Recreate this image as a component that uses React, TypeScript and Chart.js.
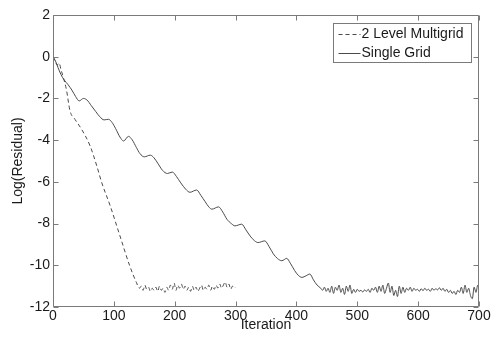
import React, { useEffect, useRef } from "react";
import { Chart, registerables } from "chart.js";

Chart.register(...registerables);

const seriesLabels = ["2 Level Multigrid", "Single Grid"];

const multigridIter = [
  0, 4, 7, 10, 13, 17, 22, 28, 36, 47, 61, 72, 80, 94, 110, 126, 137, 142,
  145, 148, 151, 154, 157, 160, 163, 166, 169, 172, 175, 178, 181, 184, 187,
  190, 193, 196, 199, 202, 205, 208, 211, 214, 217, 220, 223, 226, 229, 232,
  235, 238, 241, 244, 247, 250, 253, 256, 259, 262, 265, 268, 271, 274, 277,
  280, 283, 286, 289, 292, 295, 298, 300,
];
const multigridVal = [
  0.0, -0.25, -0.4, -0.3, -0.6, -1.0, -1.57, -2.6, -3.0, -3.48, -4.28, -5.24,
  -6.03, -7.15, -8.59, -10.02, -10.82, -11.1,
  -11.0, -11.2, -10.95, -11.15, -11.05, -11.25, -11.1, -11.2, -11.05, -11.25,
  -11.0, -11.2, -11.1, -11.3, -11.05, -11.2, -10.95, -11.15, -10.85, -11.2,
  -10.95, -11.1, -10.9, -11.15, -11.0, -11.2, -11.05, -11.25, -11.0, -11.2,
  -11.05, -11.25, -11.1, -10.95, -11.2, -11.05, -11.15, -10.95, -11.2, -11.0,
  -11.15, -10.95, -11.1, -10.9, -11.1, -10.95, -10.8, -11.05, -10.9, -11.15,
  -11.0, -11.1, -11.05,
];

const singleIter = [
  0, 4, 8, 13, 18, 25, 31, 37, 43, 50, 56, 63, 70, 77, 84, 91, 97, 103, 110,
  116, 124, 130, 137, 143, 150, 160, 166, 172, 180, 188, 196, 203, 210, 218,
  225, 236, 243, 250, 256, 261, 272, 279, 286, 293, 299, 310, 317, 324, 331,
  337, 348, 355, 362, 369, 376, 384, 390, 397, 403, 409, 416, 422, 428, 434,
  440, 443, 446, 449, 452, 455, 458, 461, 464, 467, 470, 473, 476, 479, 482,
  485, 488, 491, 494, 497, 500, 503, 506, 509, 512, 515, 518, 521, 524, 527,
  530, 533, 536, 539, 542, 545, 548, 551, 554, 557, 560, 563, 566, 569, 572,
  575, 578, 581, 584, 587, 590, 593, 596, 599, 602, 605, 608, 611, 614, 617,
  620, 623, 626, 629, 632, 635, 638, 641, 644, 647, 650, 653, 656, 659, 662,
  665, 668, 671, 674, 677, 680, 683, 686, 689, 692, 695, 698, 700,
];
const singleVal = [
  0.0, -0.2, -0.5, -0.85, -1.1, -1.35, -1.6, -1.9, -2.12, -2.0, -2.08, -2.35,
  -2.62, -2.88, -3.03, -3.0, -3.15, -3.45, -3.85, -4.04, -3.82, -3.98, -4.35,
  -4.65, -4.8, -4.72, -4.85, -5.1, -5.45, -5.6, -5.53, -5.75, -6.05, -6.35,
  -6.5, -6.39, -6.65, -6.95, -7.2, -7.31, -7.2, -7.45, -7.8, -8.0, -8.11,
  -8.03, -8.3, -8.6, -8.82, -8.91, -8.83, -9.1, -9.45, -9.68, -9.78, -9.67,
  -9.9, -10.25, -10.48, -10.58, -10.5, -10.42, -10.7, -10.95, -11.1,
  -11.2, -11.05, -11.25, -11.1, -11.3, -11.0, -11.35, -11.05, -11.2, -10.95,
  -11.3, -11.1, -11.4, -11.0, -11.25, -10.95, -11.35, -11.15, -11.3, -11.15,
  -11.25, -11.2, -11.28, -11.18, -11.25, -11.15, -11.3, -11.1, -11.2, -11.05,
  -11.3, -11.0, -11.25, -10.95, -11.35, -11.1, -10.85, -11.3, -11.0, -11.45,
  -11.2, -11.5, -11.0, -11.35, -11.05, -11.3, -11.1, -11.2, -11.05, -11.25,
  -11.1, -11.2, -11.15, -11.25, -11.12, -11.22, -11.1, -11.2, -11.15, -11.25,
  -11.1, -11.2, -11.12, -11.18, -11.08, -11.2, -11.1, -11.25, -11.15, -11.3,
  -11.2, -11.35, -11.25, -11.4, -11.2, -11.3, -11.05, -11.35, -10.95, -11.3,
  -11.1, -11.45, -11.6, -11.05, -11.3, -10.95, -11.15,
];

const xTickValues = [0, 100, 200, 300, 400, 500, 600, 700];
const yTickValues = [-12, -10, -8, -6, -4, -2, 0, 2];

const FONT = "'Liberation Sans', Arial, sans-serif";
const AXIS_COLOR = "#7a7a7a";
const TEXT_COLOR = "#1a1a1a";
const LINE_COLOR = "#4a4a4a";

const framePlugin = {
  id: "frameTicks",
  afterDatasetsDraw(chart: any) {
    const { ctx, chartArea, scales } = chart;
    const { left, right, top, bottom } = chartArea;
    const xs = scales.x;
    const ys = scales.y;
    ctx.save();
    ctx.strokeStyle = AXIS_COLOR;
    ctx.lineWidth = 1;
    const L = Math.round(left) + 0.5;
    const R = Math.round(right) - 0.5;
    const T = Math.round(top) + 0.5;
    const B = Math.round(bottom) - 0.5;
    ctx.beginPath();
    ctx.rect(L, T, R - L, B - T);
    ctx.stroke();
    const tl = 5;
    ctx.beginPath();
    xTickValues.forEach((v) => {
      const px = Math.round(xs.getPixelForValue(v)) + 0.5;
      ctx.moveTo(px, B);
      ctx.lineTo(px, B - tl);
      ctx.moveTo(px, T);
      ctx.lineTo(px, T + tl);
    });
    yTickValues.forEach((v) => {
      const py = Math.round(ys.getPixelForValue(v)) + 0.5;
      ctx.moveTo(L, py);
      ctx.lineTo(L + tl, py);
      ctx.moveTo(R, py);
      ctx.lineTo(R - tl, py);
    });
    ctx.stroke();
    ctx.restore();
  },
  afterDraw(chart: any) {
    const { ctx, chartArea } = chart;
    const boxW = 138;
    const boxH = 39;
    const bx = Math.round(chartArea.right - 8 - boxW) + 0.5;
    const by = Math.round(chartArea.top + 8) + 0.5;
    ctx.save();
    ctx.fillStyle = "#ffffff";
    ctx.fillRect(bx, by, boxW, boxH);
    ctx.strokeStyle = AXIS_COLOR;
    ctx.lineWidth = 1;
    ctx.strokeRect(bx, by, boxW, boxH);
    ctx.font = `14px ${FONT}`;
    ctx.textBaseline = "middle";
    ctx.fillStyle = TEXT_COLOR;
    chart.data.datasets.forEach((ds: any, i: number) => {
      const cy = Math.round(by + 10 + i * 19) + 0.5;
      ctx.beginPath();
      ctx.strokeStyle = ds.borderColor;
      ctx.setLineDash(ds.borderDash || []);
      ctx.moveTo(bx + 5, cy);
      ctx.lineTo(bx + 27, cy);
      ctx.stroke();
      ctx.setLineDash([]);
      ctx.fillText(ds.label, bx + 28, cy);
    });
    ctx.restore();
  },
};

export default function App() {
  const canvasRef = useRef<HTMLCanvasElement | null>(null);

  useEffect(() => {
    if (!canvasRef.current) return;
    const chart = new Chart(canvasRef.current, {
      type: "line",
      data: {
        datasets: [
          {
            label: seriesLabels[0],
            data: multigridIter.map((x, i) => ({ x, y: multigridVal[i] })),
            borderColor: LINE_COLOR,
            borderWidth: 1,
            borderDash: [4, 3],
            pointRadius: 0,
            cubicInterpolationMode: "monotone",
            fill: false,
          },
          {
            label: seriesLabels[1],
            data: singleIter.map((x, i) => ({ x, y: singleVal[i] })),
            borderColor: LINE_COLOR,
            borderWidth: 1,
            pointRadius: 0,
            cubicInterpolationMode: "monotone",
            fill: false,
          },
        ],
      },
      options: {
        animation: false,
        responsive: false,
        events: [],
        layout: { padding: { top: 15, right: 16, left: 0, bottom: 0 } },
        plugins: {
          legend: { display: false },
          tooltip: { enabled: false },
        },
        scales: {
          x: {
            type: "linear",
            min: 0,
            max: 700,
            afterBuildTicks: (s: any) => {
              s.ticks = xTickValues.map((v) => ({ value: v }));
            },
            afterFit: (s: any) => {
              s.height = 36;
            },
            grid: { display: false, drawTicks: false },
            border: { display: false },
            ticks: {
              color: TEXT_COLOR,
              font: { family: FONT, size: 14 },
              padding: 1,
              maxRotation: 0,
              autoSkip: false,
            },
            title: {
              display: true,
              text: "Iteration",
              color: TEXT_COLOR,
              font: { family: FONT, size: 14 },
              padding: { top: 9, bottom: 9 },
            },
          },
          y: {
            type: "linear",
            min: -12,
            max: 2,
            afterBuildTicks: (s: any) => {
              s.ticks = yTickValues.map((v) => ({ value: v }));
            },
            afterFit: (s: any) => {
              s.width = 53;
            },
            grid: { display: false, drawTicks: false },
            border: { display: false },
            ticks: {
              color: TEXT_COLOR,
              font: { family: FONT, size: 14 },
              padding: 3,
              autoSkip: false,
            },
            title: {
              display: true,
              text: "Log(Residual)",
              color: TEXT_COLOR,
              font: { family: FONT, size: 14 },
              padding: { top: 10, bottom: 10 },
            },
          },
        },
      },
      plugins: [framePlugin],
    });
    return () => chart.destroy();
  }, []);

  return (
    <div style={{ position: "fixed", left: 0, top: 0, width: 495, height: 343, background: "#fff" }}>
      <canvas ref={canvasRef} width={495} height={343} style={{ display: "block" }} />
    </div>
  );
}
